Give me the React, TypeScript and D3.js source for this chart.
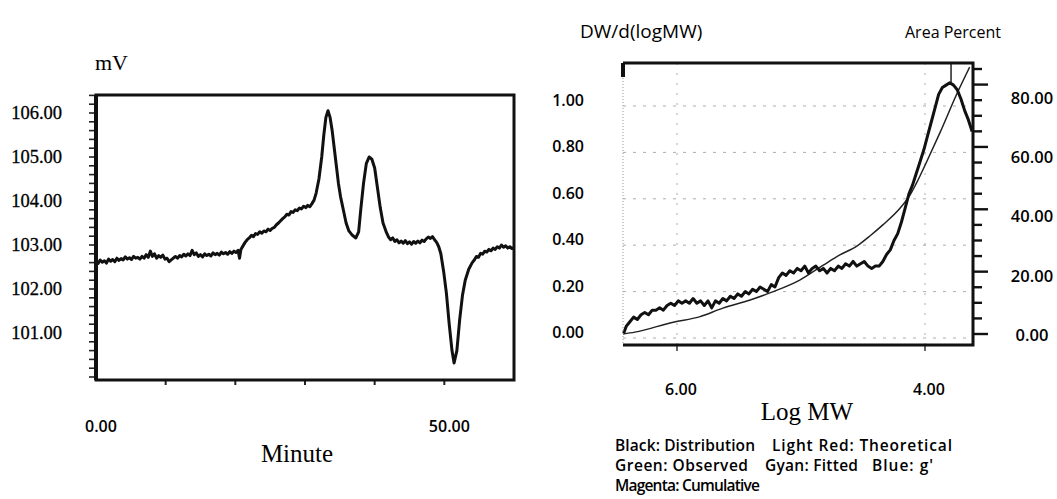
import React from "react";
import * as d3 from "d3";

// ---- chromatogram (left) ----
const minutes = [
  0.0, 0.3, 0.6, 0.9, 1.2, 1.5, 1.8, 2.1, 2.4, 2.7, 3.0, 3.3, 3.6, 3.9, 4.2, 4.5, 4.8,
  5.1, 5.4, 5.7, 6.0, 6.3, 6.6, 6.9, 7.2, 7.5, 7.8, 8.1, 8.4, 8.7, 9.0, 9.3, 9.6, 9.9,
  10.2, 10.5, 10.8, 11.1, 11.4, 11.7, 12.0, 12.3, 12.6, 12.9, 13.2, 13.5, 13.8, 14.1,
  14.4, 14.7, 15.0, 15.3, 15.6, 15.9, 16.2, 16.5, 16.8, 17.1, 17.4, 17.7, 18.0, 18.3,
  18.6, 18.9, 19.2, 19.5, 19.8, 20.1, 20.4, 20.6, 20.8, 21.1, 21.4, 21.7, 22.0, 22.3,
  22.6, 22.9, 23.2, 23.5, 23.8, 24.1, 24.4, 24.7, 25.0, 25.3, 25.6, 25.9, 26.2, 26.5,
  26.8, 27.1, 27.4, 27.7, 28.0, 28.3, 28.6, 28.9, 29.2, 29.5, 29.8, 30.1, 30.4, 30.7,
  31.0, 31.3, 31.6, 32.0, 32.4, 32.7, 33.0, 33.3, 33.6, 33.9, 34.2, 34.5, 34.8, 35.1,
  35.5, 35.9, 36.3, 36.8, 37.3, 37.7, 38.0, 38.4, 38.8, 39.2, 39.6, 40.0, 40.4, 40.8,
  41.2, 41.7, 42.0, 42.3, 42.6, 42.9, 43.2, 43.5, 43.8, 44.1, 44.4, 44.7, 45.0, 45.3,
  45.6, 45.9, 46.2, 46.5, 46.8, 47.1, 47.4, 47.7, 48.0, 48.3, 48.6, 48.9, 49.2, 49.5,
  49.9, 50.3, 50.7, 51.1, 51.4, 51.8, 52.2, 52.6, 53.0, 53.5, 54.0, 54.3, 54.6, 54.9,
  55.2, 55.5, 55.8, 56.1, 56.4, 56.7, 57.0, 57.3, 57.6, 57.9, 58.2, 58.5, 58.8, 59.1,
  59.4, 59.7, 60.0,
];
const millivolts = [
  102.62, 102.58, 102.66, 102.61, 102.64, 102.59, 102.68, 102.63, 102.67, 102.62,
  102.7, 102.65, 102.69, 102.66, 102.73, 102.68, 102.71, 102.67, 102.74, 102.7, 102.72,
  102.68, 102.74, 102.7, 102.78, 102.72, 102.86, 102.74, 102.8, 102.7, 102.76, 102.72,
  102.77, 102.68, 102.7, 102.62, 102.66, 102.7, 102.74, 102.7, 102.76, 102.73, 102.79,
  102.75, 102.8, 102.76, 102.88, 102.78, 102.82, 102.74, 102.78, 102.73, 102.8, 102.76,
  102.79, 102.75, 102.82, 102.78, 102.81, 102.77, 102.84, 102.8, 102.83, 102.79,
  102.85, 102.81, 102.86, 102.83, 102.88, 102.7, 102.9, 102.98, 103.06, 103.12, 103.16,
  103.22, 103.19, 103.26, 103.24, 103.3, 103.27, 103.32, 103.3, 103.36, 103.33, 103.38,
  103.4, 103.46, 103.5, 103.55, 103.6, 103.64, 103.7, 103.68, 103.76, 103.74, 103.8,
  103.78, 103.84, 103.82, 103.88, 103.85, 103.9, 103.87, 103.94, 104.02, 104.18, 104.5,
  105.0, 105.5, 105.9, 106.05, 105.9, 105.6, 105.2, 104.8, 104.4, 104.1, 103.8, 103.5,
  103.32, 103.22, 103.16, 103.3, 103.8, 104.4, 104.85, 105.0, 104.95, 104.75, 104.3,
  103.85, 103.5, 103.28, 103.18, 103.12, 103.16, 103.08, 103.12, 103.05, 103.09,
  103.04, 103.1, 103.03, 103.07, 103.02, 103.08, 103.04, 103.09, 103.05, 103.11,
  103.08, 103.14, 103.18, 103.15, 103.19, 103.12, 103.06, 102.96, 102.8, 102.4, 101.9,
  101.2, 100.6, 100.32, 100.6, 101.3, 101.85, 102.2, 102.45, 102.6, 102.66, 102.74,
  102.72, 102.81, 102.79, 102.86, 102.84, 102.9, 102.87, 102.93, 102.9, 102.96,
  102.93, 103.0, 102.95, 102.98, 102.93, 102.96, 102.92, 102.94,
];
const mvTicks = [106, 105, 104, 103, 102, 101];
const minuteTicks = [10, 20, 30, 40, 50];
const minuteLabels = [0, 50];

// ---- molecular weight distribution (right) ----
const distLogMW = [
  6.43, 6.41, 6.38, 6.35, 6.32, 6.29, 6.26, 6.23, 6.2, 6.17, 6.14, 6.11, 6.08, 6.05,
  6.02, 5.99, 5.96, 5.93, 5.9, 5.87, 5.84, 5.81, 5.78, 5.75, 5.72, 5.69, 5.66, 5.63,
  5.6, 5.57, 5.54, 5.51, 5.48, 5.45, 5.42, 5.39, 5.36, 5.33, 5.3, 5.27, 5.24, 5.21,
  5.18, 5.15, 5.12, 5.09, 5.06, 5.03, 5.0, 4.97, 4.94, 4.91, 4.88, 4.85, 4.82, 4.79,
  4.76, 4.73, 4.7, 4.67, 4.64, 4.61, 4.58, 4.55, 4.52, 4.49, 4.46, 4.43, 4.4, 4.37,
  4.34, 4.31, 4.28, 4.25, 4.22, 4.19, 4.16, 4.13, 4.1, 4.07, 4.04, 4.01, 3.98, 3.95,
  3.92, 3.89, 3.86, 3.83, 3.8, 3.77, 3.74, 3.71, 3.68, 3.65, 3.62,
];
const distribution = [
  0.02, 0.05, 0.07, 0.09, 0.08, 0.1, 0.11, 0.1, 0.12, 0.12, 0.13, 0.12, 0.14, 0.15,
  0.14, 0.16, 0.15, 0.16, 0.15, 0.17, 0.15, 0.16, 0.14, 0.16, 0.13, 0.16, 0.15, 0.17,
  0.16, 0.18, 0.17, 0.19, 0.18, 0.2, 0.19, 0.21, 0.2, 0.22, 0.21, 0.2, 0.23, 0.22,
  0.26, 0.28, 0.27, 0.29, 0.28, 0.3, 0.29, 0.31, 0.28, 0.3, 0.31, 0.29, 0.3, 0.28,
  0.3, 0.29, 0.31, 0.3, 0.32, 0.31, 0.33, 0.31, 0.32, 0.33, 0.31, 0.3, 0.31, 0.31,
  0.33, 0.36, 0.38, 0.42, 0.45, 0.5, 0.56, 0.62, 0.66, 0.71, 0.76, 0.81, 0.87, 0.93,
  0.99, 1.05, 1.08, 1.09, 1.1, 1.09, 1.07, 1.03, 0.98, 0.94, 0.89,
];
const cumLogMW = [
  6.435, 6.34, 6.03, 5.82, 5.63, 5.41, 5.23, 5.01, 4.82, 4.69, 4.55, 4.44, 4.34, 4.2,
  4.12, 4.07, 3.98, 3.88, 3.74, 3.64,
];
const cumulative = [
  0, 0.6, 3.8, 5.5, 8.3, 10.9, 13.5, 17.3, 22.1, 25.3, 28.2, 31.6, 35.0, 40.4, 44.6,
  48.3, 55.8, 64.5, 77.3, 85.6,
];
const dwTicks = [0, 0.2, 0.4, 0.6, 0.8, 1.0];
const areaTicks = [0, 20, 40, 60, 80];
const areaMinorTicks = d3.range(0, 86, 5);
const logMWTicks = [6, 4];
const peakMarker = 3.79;
const legendLines = [
  ["Black: Distribution", "Light Red: Theoretical"],
  ["Green: Observed", "Gyan: Fitted", "Blue: g'"],
  ["Magenta: Cumulative"],
];
// x start and width of each legend phrase
const legendX = [
  [615, 772],
  [615, 765, 872],
  [615],
];
const legendW = [
  [140, 180],
  [133, 93, 61],
  [145],
];

const serif = "'Liberation Serif', 'Times New Roman', serif";
const sans = "'Open Sans', Lato, sans-serif";

export default function App() {
  // left chart geometry
  const L = { left: 96, right: 514, top: 95, bottom: 380 };
  const xMin = d3.scaleLinear().domain([0, 60]).range([L.left, L.right]);
  const yMv = d3.scaleLinear().domain([101, 106]).range([333, 113]);
  const mvLine = d3
    .line<number>()
    .x((_, i) => xMin(minutes[i]))
    .y((d) => yMv(d));
  const mvMinor = d3.range(100, 106.41, 0.2);

  // right chart geometry
  const R = { left: 623, right: 973, top: 63, bottom: 345 };
  const xLog = d3.scaleLinear().domain([6, 4]).range([677, 925]);
  const yDw = d3.scaleLinear().domain([0, 1]).range([338, 106]);
  const yArea = d3.scaleLinear().domain([0, 85]).range([334, 69]);
  const yAreaLabel = d3.scaleLinear().domain([0, 80]).range([335, 98]);
  const distLine = d3
    .line<number>()
    .x((_, i) => xLog(distLogMW[i]))
    .y((d) => yDw(d));
  const cumLine = d3
    .line<number>()
    .x((_, i) => xLog(cumLogMW[i]))
    .y((d) => yArea(d))
    .curve(d3.curveMonotoneX);

  return (
    <svg
      width={1057}
      height={499}
      style={{ position: "absolute", left: 0, top: 0, background: "#fff" }}
    >
      {/* ---------- left chart ---------- */}
      <text x={95} y={70} fontFamily={serif} fontSize={22}>
        mV
      </text>
      {mvMinor.map((v, i) => (
        <line
          key={"mn" + i}
          x1={L.left - 7}
          x2={L.left}
          y1={yMv(v)}
          y2={yMv(v)}
          stroke="#222"
          strokeWidth={1.6}
        />
      ))}
      {mvTicks.map((v) => (
        <text
          key={"mv" + v}
          x={62}
          y={yMv(v)}
          dy="0.35em"
          textAnchor="end"
          fontFamily={serif}
          fontSize={18.5}
          stroke="#000"
          strokeWidth={0.3}
        >
          {v.toFixed(2)}
        </text>
      ))}
      {minuteTicks.map((v) => (
        <line
          key={"mt" + v}
          x1={xMin(v)}
          x2={xMin(v)}
          y1={L.bottom}
          y2={L.bottom + 5}
          stroke="#222"
          strokeWidth={2}
        />
      ))}
      {minuteLabels.map((v) => (
        <text
          key={"ml" + v}
          x={xMin(v) + 5}
          y={432}
          textAnchor="middle"
          fontFamily={sans}
          fontWeight={600}
          fontSize={16}
        >
          {v.toFixed(2)}
        </text>
      ))}
      <text x={297} y={462} textAnchor="middle" fontFamily={serif} fontSize={25}>
        Minute
      </text>
      <path
        d={mvLine(millivolts) || ""}
        fill="none"
        stroke="#111"
        strokeWidth={3}
        strokeLinejoin="round"
      />
      <rect
        x={L.left}
        y={L.top}
        width={L.right - L.left}
        height={L.bottom - L.top}
        fill="none"
        stroke="#111"
        strokeWidth={3}
      />
      <line x1={L.left} x2={L.left} y1={L.top} y2={L.bottom} stroke="#111" strokeWidth={4} />

      {/* ---------- right chart ---------- */}
      <text x={580} y={38} fontFamily={sans} fontSize={19}>
        DW/d(logMW)
      </text>
      <text x={905} y={38} fontFamily={sans} fontSize={16}>
        Area Percent
      </text>

      {dwTicks.map((v) => (
        <line
          key={"gh" + v}
          x1={R.left}
          x2={R.right}
          y1={yDw(v)}
          y2={yDw(v)}
          stroke="#777"
          strokeWidth={1}
          strokeDasharray="3 7"
          opacity={0.6}
        />
      ))}
      {logMWTicks.map((v) => (
        <line
          key={"gv" + v}
          x1={xLog(v)}
          x2={xLog(v)}
          y1={R.top}
          y2={R.bottom}
          stroke="#777"
          strokeWidth={1}
          strokeDasharray="2 8"
          opacity={0.6}
        />
      ))}
      {dwTicks.map((v) => (
        <text
          key={"dl" + v}
          x={584}
          y={yDw(v)}
          textAnchor="end"
          fontFamily={sans}
          fontWeight={600}
          fontSize={16}
        >
          {v.toFixed(2)}
        </text>
      ))}
      {areaMinorTicks.map((v) => (
        <line
          key={"at" + v}
          x1={R.right}
          x2={R.right + (v % 20 === 0 ? 15 : 9)}
          y1={yArea(v)}
          y2={yArea(v)}
          stroke="#111"
          strokeWidth={2.4}
        />
      ))}
      {areaTicks.map((v) => (
        <text
          key={"al" + v}
          x={1032}
          y={yAreaLabel(v)}
          dy="0.35em"
          textAnchor="middle"
          fontFamily={sans}
          fontWeight={600}
          fontSize={16.5}
        >
          {v.toFixed(2)}
        </text>
      ))}
      {logMWTicks.map((v) => (
        <g key={"lx" + v}>
          <line
            x1={xLog(v)}
            x2={xLog(v)}
            y1={R.bottom}
            y2={R.bottom + 6}
            stroke="#333"
            strokeWidth={1.5}
          />
          <text
            x={xLog(v) + 4}
            y={395}
            textAnchor="middle"
            fontFamily={sans}
            fontWeight={600}
            fontSize={16}
          >
            {v.toFixed(2)}
          </text>
        </g>
      ))}
      <text x={807} y={420} textAnchor="middle" fontFamily={serif} fontSize={25}>
        Log MW
      </text>
      {legendLines.map((line, li) =>
        line.map((t, ti) => (
          <text
            key={"lg" + li + ti}
            x={legendX[li][ti]}
            y={451 + li * 20}
            fontFamily={sans}
            fontWeight={600}
            fontSize={15.5}
            textLength={legendW[li][ti]}
            lengthAdjust="spacing"
          >
            {t}
          </text>
        ))
      )}

      <path
        d={cumLine(cumulative) || ""}
        fill="none"
        stroke="#222"
        strokeWidth={1.5}
      />
      <path
        d={distLine(distribution) || ""}
        fill="none"
        stroke="#111"
        strokeWidth={3}
        strokeLinejoin="round"
      />
      <line
        x1={xLog(peakMarker)}
        x2={xLog(peakMarker)}
        y1={R.top}
        y2={yDw(1.1)}
        stroke="#222"
        strokeWidth={1.5}
      />

      <line x1={R.left} x2={R.left} y1={R.top} y2={R.bottom} stroke="#999" strokeWidth={1} strokeDasharray="1 2" />
      <line x1={R.left} x2={R.left} y1={R.top} y2={R.top + 14} stroke="#111" strokeWidth={4} />
      <path
        d={`M${R.left},${R.top}H${R.right}V${R.bottom}H${R.left}`}
        fill="none"
        stroke="#111"
        strokeWidth={3}
      />
    </svg>
  );
}
